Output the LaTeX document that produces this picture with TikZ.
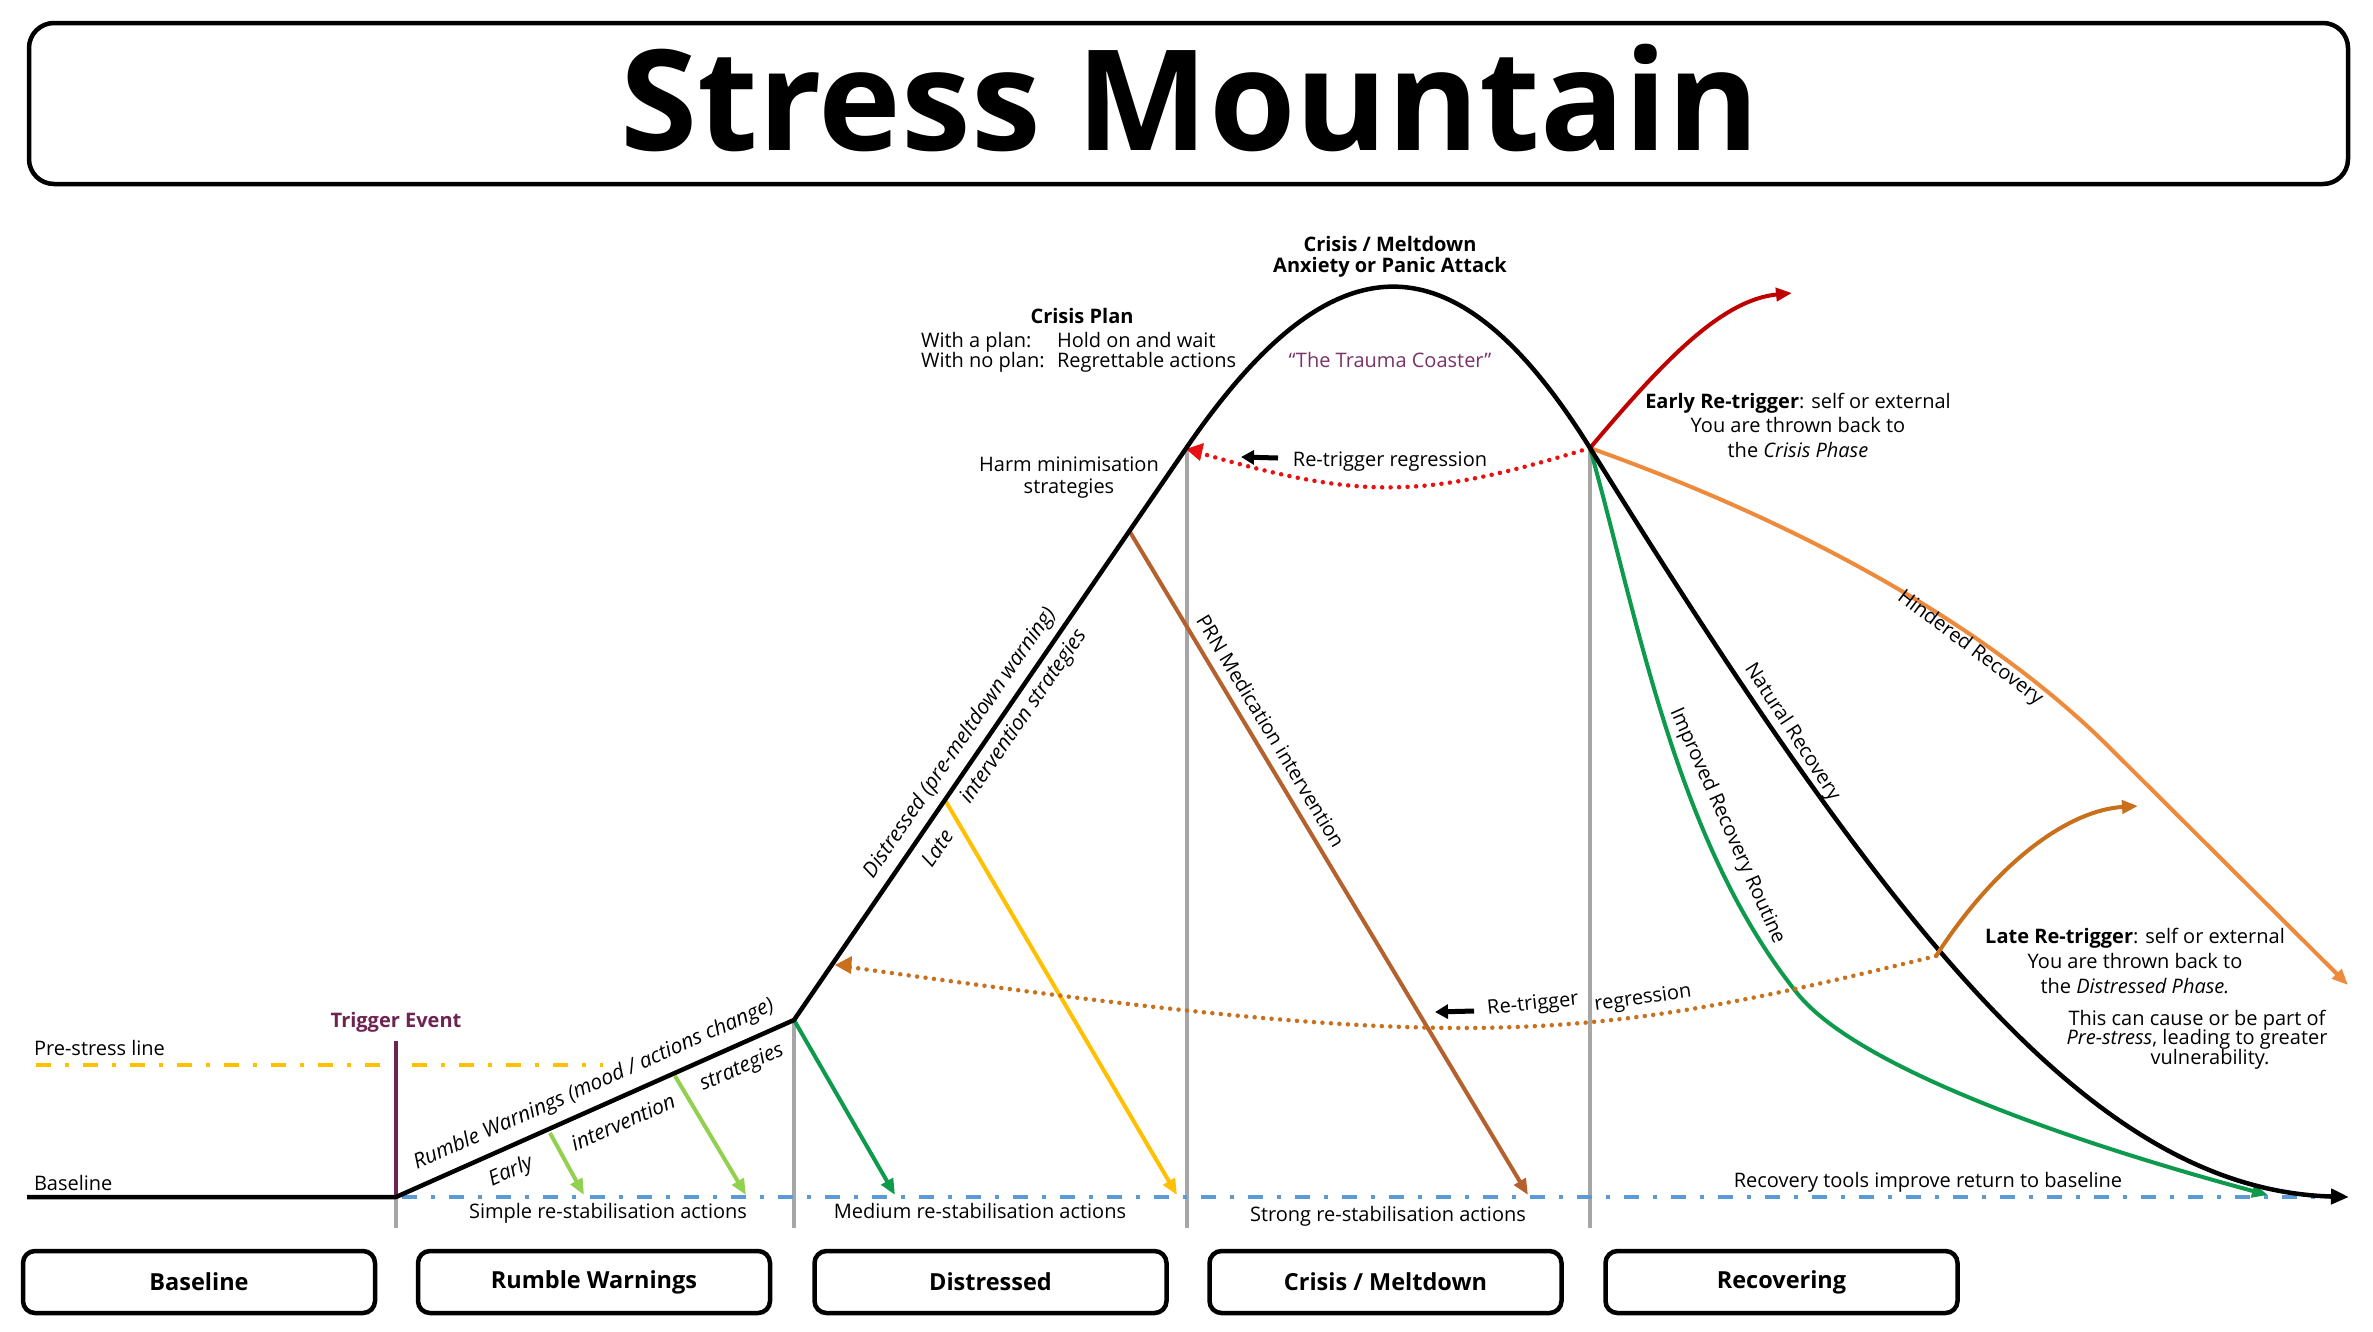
\documentclass[tikz,border=0pt]{standalone}
\usepackage{fontspec}
\setmainfont{Open Sans}
\usetikzlibrary{arrows.meta}
\definecolor{cgrey}{HTML}{A6A6A6}
\definecolor{cblue}{HTML}{5B9BD5}
\definecolor{cyel}{HTML}{FFC000}
\definecolor{cpurple}{HTML}{6E2352}
\definecolor{ctrauma}{HTML}{7A3468}
\definecolor{cltgreen}{HTML}{92D050}
\definecolor{cgreen}{HTML}{0E9A4C}
\definecolor{cbrown}{HTML}{B4612D}
\definecolor{corange}{HTML}{EE8A3C}
\definecolor{clate}{HTML}{C8701C}
\definecolor{cred}{HTML}{C00000}
\definecolor{cbright}{HTML}{E81010}
\newcommand\fs[1]{\fontsize{#1}{#1}\selectfont}
\begin{document}
\begin{tikzpicture}[x=1pt,y=-1pt,
  every node/.style={inner sep=0pt, outer sep=0pt},
  txt/.style={font=\fs{20}},
  txti/.style={font=\fs{21}\itshape},
  txtb/.style={font=\fs{20}\bfseries},
  arr/.style={line width=4pt, -{Triangle[length=16pt,width=13pt]}},
  dotline/.style={line width=4.5pt, dash pattern=on 0pt off 8.5pt, line cap=round},
  dashdot/.style={line width=4.5pt, dash pattern=on 15pt off 14pt on 4pt off 14pt},
  gline/.style={cgrey, line width=4pt},
  phase/.style={draw, line width=4.5pt, rounded corners=12pt, minimum width=352pt, minimum height=62pt, font=\fs{23.5}\bfseries},
]
\useasboundingbox (0,0) rectangle (2373,1331);
\fill[white] (0,0) rectangle (2373,1331);

% title
\node[draw, line width=4.5pt, rounded corners=25pt, minimum width=2319pt, minimum height=161pt] (titlebox) at (1188.5,103.5) {};
\node[font=\fs{140}\bfseries, anchor=base] (title) at (1190,150) {Stress Mountain};

% key points
\coordinate (b0) at (27,1197);
\coordinate (trig) at (396,1197);
\coordinate (trigtop) at (396,1041);
\coordinate (rpk) at (794,1020);
\coordinate (cl) at (1187,447);
\coordinate (cr) at (1590,448);
\coordinate (nend) at (2349,1197);
\coordinate (bend) at (2350,1197);
\coordinate (lrt) at (1936,956);

% grey separators
\draw[gline] (trig) -- (396,1228);
\draw[gline] (rpk) -- (794,1228);
\draw[gline] (cl) -- (1187,1228);
\draw[gline] (cr) -- (1590,1228);

% baseline improvement and pre-stress
\draw[dashdot, cblue] (402,1197) -- (bend);
\coordinate (ps1) at (36,1065);
\coordinate (ps2) at (603,1065);
\draw[dashdot, cyel] (ps1) -- (ps2);

% trigger
\draw[cpurple, line width=3.5pt] (trig) -- (trigtop);

% re-stabilisation arrows
\coordinate (e1) at (550,1133); \coordinate (e1b) at (584,1195);
\coordinate (e2) at (675,1076); \coordinate (e2b) at (746,1195);
\draw[arr, cltgreen] (e1) -- (e1b);
\draw[arr, cltgreen] (e2) -- (e2b);
\draw[arr, cgreen] (rpk) -- (895,1195);
\coordinate (ly) at (945,800);
\draw[arr, cyel] (ly) -- (1177,1195);
\coordinate (prn) at (1130,532);
\draw[arr, cbrown] (prn) -- (1528,1195);

% recovery variants
\draw[arr, cgreen] (cr) .. controls (1640,628) and (1677,843) .. (1797,993)
   .. controls (1861,1073) and (2100,1150) .. (2268,1195);
\draw[arr, corange] (cr) .. controls (1812,527) and (1994,632) .. (2110,748) -- (2348,985);
\draw[arr, cred] (cr) .. controls (1660,365) and (1720,300) .. (1792,293);

% regressions
\draw[dotline, cbright] (cr) .. controls (1420,500) and (1360,500) .. (1193,451);
\fill[cbright] (1186,449) -- (1204,443) -- (1200,461) -- cycle;
\draw[dotline, clate] (lrt) .. controls (1572,1045) and (1468,1055) .. (842,966);
\fill[clate] (835,965) -- (852,956) -- (851,974) -- cycle;

% mountain
\draw[line width=4.5pt, line join=round, -{Triangle[length=18pt,width=15pt]}]
  (b0) -- (trig) -- (rpk) -- (cl) .. controls (1334,233) and (1456,233) .. (cr)
  .. controls (1900,948) and (2100,1190) .. (nend);

\draw[arr, clate] (lrt) .. controls (1998,860) and (2070,810) .. (2138,806);

% small black arrows
\coordinate (ka1) at (1278,458); \coordinate (ka2) at (1241,457);
\draw[line width=5pt, -{Triangle[length=13pt,width=14pt]}] (ka1) -- (ka2);
\coordinate (kb1) at (1474,1011); \coordinate (kb2) at (1435,1012);
\draw[line width=5pt, -{Triangle[length=13pt,width=14pt]}] (kb1) -- (kb2);

% labels left
\node[font=\fs{20}, anchor=base west] (lps) at (34,1055) {Pre-stress line};
\node[font=\fs{20}, anchor=base west] (lbase) at (34,1190) {Baseline};
\node[txtb, text=cpurple, anchor=base] (ltrig) at (396,1027) {Trigger Event};

\node[txti, rotate=24] (lrumble) at (594,1085) {Rumble Warnings (mood / actions change)};
\node[txti, rotate=24] (learly) at (511,1172) {Early};
\node[txti, rotate=24] (lint) at (623,1122) {intervention};
\node[txti, rotate=24] (lstrat) at (742,1068) {strategies};

\node[txti, rotate=55.5] (ldist) at (960,743) {Distressed (pre-meltdown warning)};
\node[txti, rotate=55.5] (lintstr) at (1024,717) {intervention strategies};
\node[txti, rotate=55.5] (llate) at (937,848) {Late};
\node[txt, rotate=-59] (lprn) at (1271,731) {PRN Medication intervention};
\node[txt, rotate=-57] (lnat) at (1792,732) {Natural Recovery};
\node[txt, rotate=-66] (limp) at (1727,826) {Improved Recovery Routine};
\node[txt, rotate=-37] (lhind) at (1970,648) {Hindered Recovery};

% top labels
\node[txtb, anchor=base] (lcm1) at (1390,251) {Crisis / Meltdown};
\node[txtb, anchor=base] (lcm2) at (1390,272) {Anxiety or Panic Attack};
\node[txtb, anchor=base] (lcp) at (1082,323) {Crisis Plan};
\node[txt, anchor=base west] (lwp) at (921,347) {With a plan:};
\node[txt, anchor=base west] (lwp2) at (1057,347) {Hold on and wait};
\node[txt, anchor=base west] (lnp) at (921,367) {With no plan:};
\node[txt, anchor=base west] (lnp2) at (1057,367) {Regrettable actions};
\node[txt, text=ctrauma, anchor=base] (ltc) at (1390,367) {“The Trauma Coaster”};
\node[txt, anchor=base] (lhm1) at (1069,471) {Harm minimisation};
\node[txt, anchor=base] (lhm2) at (1069,493) {strategies};
\node[txt, anchor=base] (lrr1) at (1390,466) {Re-trigger regression};

\node[txt, anchor=base] (ler1) at (1798,408) {\textbf{Early Re-trigger}: self or external};
\node[txt, anchor=base] (ler2) at (1798,432) {You are thrown back to};
\node[txt, anchor=base] (ler3) at (1798,457) {the \textit{Crisis Phase}};

\node[txt, rotate=6] (lrr2a) at (1533,1005) {Re-trigger};
\node[txt, rotate=8] (lrr2b) at (1643,999) {regression};

\node[txt, anchor=base] (llr1) at (2135,943) {\textbf{Late Re-trigger}: self or external};
\node[txt, anchor=base] (llr2) at (2135,968) {You are thrown back to};
\node[txt, anchor=base] (llr3) at (2135,993) {the \textit{Distressed Phase.}};
\node[txt, anchor=base] (lpc1) at (2197,1025) {This can cause or be part of};
\node[txt, anchor=base] (lpc2) at (2197,1044) {\textit{Pre-stress}, leading to greater};
\node[txt, anchor=base] (lpc3) at (2210,1064) {vulnerability.};

% bottom labels
\node[txt, anchor=base] (lsimple) at (608,1218) {Simple re-stabilisation actions};
\node[txt, anchor=base] (lmed) at (980,1218) {Medium re-stabilisation actions};
\node[txt, anchor=base] (lstrong) at (1388,1221) {Strong re-stabilisation actions};
\node[txt, anchor=base] (ltools) at (1928,1187) {Recovery tools improve return to baseline};

% phase boxes
\node[phase] (p1) at (199,1282) {Baseline};
\node[phase] (p2) at (594,1282) {Rumble Warnings};
\node[phase] (p3) at (990.5,1282) {Distressed};
\node[phase] (p4) at (1385.5,1282) {Crisis / Meltdown};
\node[phase] (p5) at (1781.5,1282) {Recovering};
\end{tikzpicture}
\end{document}
